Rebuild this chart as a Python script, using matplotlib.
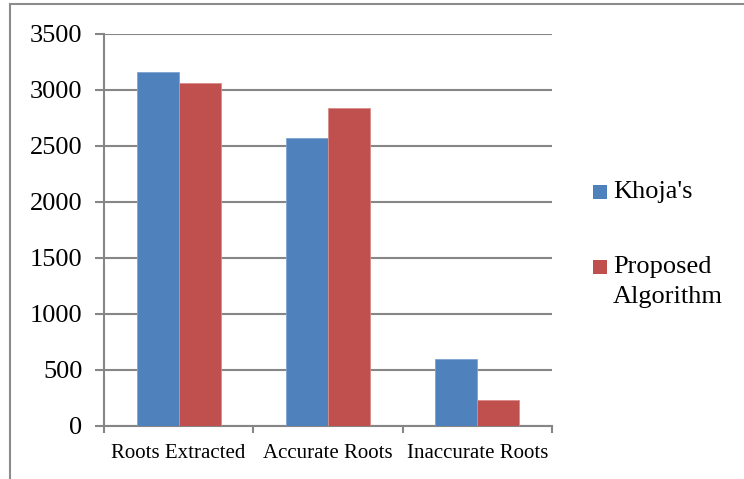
import matplotlib
matplotlib.use("Agg")
import matplotlib.pyplot as plt
from matplotlib.lines import Line2D
from matplotlib.patches import Rectangle
import numpy as np

categories = ["Roots Extracted", "Accurate Roots", "Inaccurate Roots"]
khoja = [3165, 2575, 595]
proposed = [3065, 2840, 230]
series_names = ["Khoja's", "Proposed\nAlgorithm"]
colors = ["#4F81BD", "#C0504D"]
yticks = [0, 500, 1000, 1500, 2000, 2500, 3000, 3500]

plt.rcParams['font.family'] = ['Liberation Serif', 'DejaVu Serif']

W, H = 744, 479
fig = plt.figure(figsize=(W / 100, H / 100), dpi=100)
ax = fig.add_axes([104 / W, 53 / H, 448 / W, 392 / H])

x = np.arange(len(categories))
bw = 0.282
grid_c = "#868686"
ax.bar(x - bw / 2, khoja, bw, color=colors[0], edgecolor="#7FA3D3", linewidth=0.6, zorder=3)
ax.bar(x + bw / 2, proposed, bw, color=colors[1], edgecolor="#D98B89", linewidth=0.6, zorder=3)

ax.set_xlim(-0.5, 2.5)
ax.set_ylim(0, 3500)
ax.set_yticks(yticks)
ax.set_yticklabels([str(v) for v in yticks], fontsize=19)
ax.yaxis.grid(True, color=grid_c, linewidth=1.5, zorder=0)
ax.set_axisbelow(True)

ax.set_xticks(x)
ax.set_xticklabels(categories, fontsize=15)
ax.tick_params(axis='x', which='major', length=0, pad=13)
ax.set_xticks([-0.5, 0.5, 1.5, 2.5], minor=True)
ax.tick_params(axis='x', which='minor', length=5, color=grid_c, width=1.5)
ax.tick_params(axis='y', length=6.5, color=grid_c, width=1.5, pad=9)

for s in ["top", "right"]:
    ax.spines[s].set_visible(False)
for s in ["left", "bottom"]:
    ax.spines[s].set_color(grid_c)
    ax.spines[s].set_linewidth(1.5)

# legend drawn manually in pixel coordinates (y from top)
def fx(px):
    return px / W

def fy(py):
    return 1 - py / H

leg_rows = [(192, [192]), (267, [267, 297])]
for (hy, lines), name, col in zip(leg_rows, series_names, colors):
    fig.add_artist(Rectangle((fx(593), fy(hy + 7)), 14 / W, 14 / H, facecolor=col,
                             edgecolor="none", transform=fig.transFigure))
    for ly, txt in zip(lines, name.split("\n")):
        fig.text(fx(613), fy(ly), txt, fontsize=19, va="center", ha="left")

fig.add_artist(Line2D([10 / W, 10 / W], [0, 1 - 4 / H], color="#8C8C8C", linewidth=1.5))
fig.add_artist(Line2D([10 / W, 1], [1 - 4 / H, 1 - 4 / H], color="#8C8C8C", linewidth=1.5))

fig.savefig("out.png", dpi=100)
